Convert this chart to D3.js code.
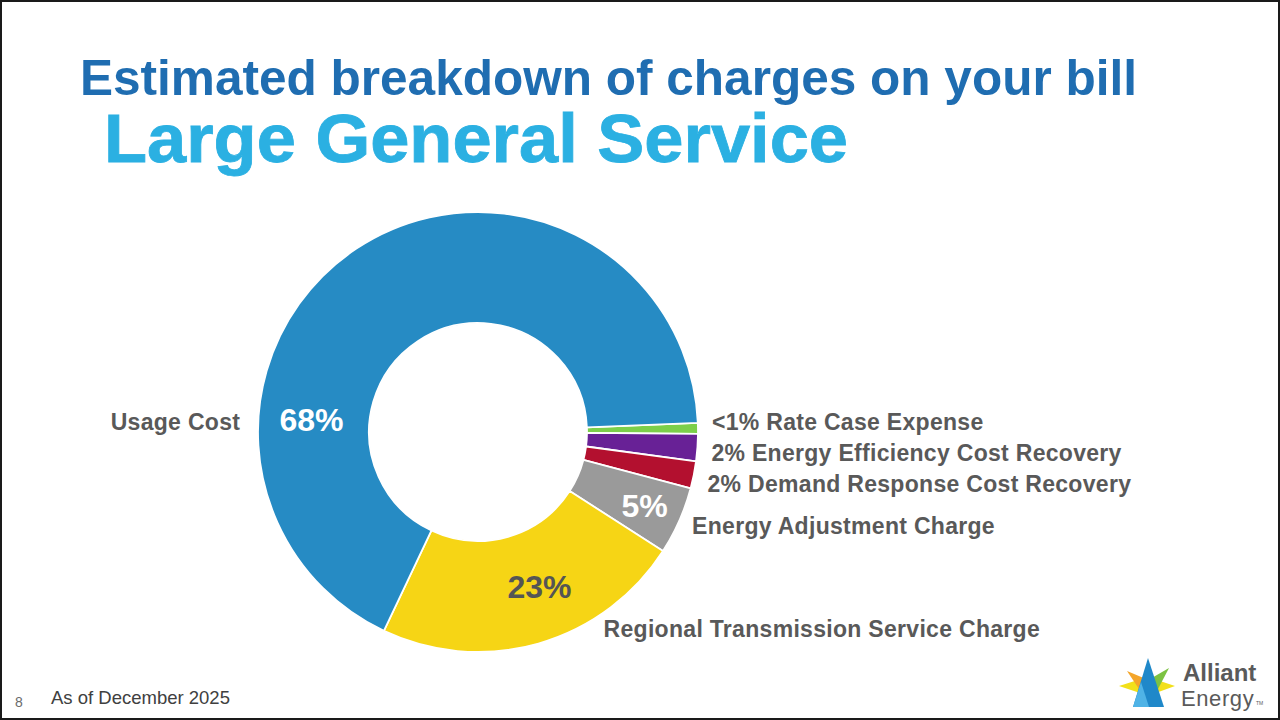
<!DOCTYPE html>
<html>
<head>
<meta charset="utf-8">
<script src="https://cdn.jsdelivr.net/npm/d3@7"></script>
<style>
  body { margin: 0; background: #fff; }
  svg { display: block; font-family: "Liberation Sans", Arial, sans-serif; }
</style>
</head>
<body>
<div id="chart"></div>
<script>
// Data (clockwise from 3 o'clock)
const sliceNames = ["Rate Case Expense", "Energy Efficiency Cost Recovery", "Demand Response Cost Recovery",
    "Energy Adjustment Charge", "Regional Transmission Service Charge", "Usage Cost"];
const sliceValues = [0.8, 2, 2, 5, 23, 67.5];
const pctLabels = ["<1%", "2%", "2%", "5%", "23%", "68%"];
const sliceColors = ["#7ccf4a", "#682196", "#b3102f", "#9a9a9a", "#f6d515", "#268bc4"];

const titleText = "Estimated breakdown of charges on your bill";
const subtitleText = "Large General Service";
const footnote = "As of December 2025";
const pageNumber = "8";

class DonutSlide {
    constructor(parentElement) {
        this.parentElement = parentElement;
        this.initVis();
    }

    initVis() {
        let vis = this;
        vis.width = 1280;
        vis.height = 720;

        vis.svg = d3.select("#" + vis.parentElement).append("svg")
            .attr("width", vis.width)
            .attr("height", vis.height);

        vis.svg.append("rect")
            .attr("width", vis.width).attr("height", vis.height)
            .attr("fill", "#fff");

        // titles
        vis.svg.append("text")
            .attr("x", 80).attr("y", 95)
            .attr("font-size", 50).attr("font-weight", "bold")
            .attr("fill", "#1f6db1")
            .attr("textLength", 1057).attr("lengthAdjust", "spacingAndGlyphs")
            .text(titleText);

        vis.svg.append("text")
            .attr("x", 104).attr("y", 162)
            .attr("font-size", 68).attr("font-weight", "bold")
            .attr("fill", "#2bb0e2")
            .attr("stroke", "#2bb0e2").attr("stroke-width", 0.8)
            .attr("textLength", 744).attr("lengthAdjust", "spacingAndGlyphs")
            .text(subtitleText);

        vis.cx = 478;
        vis.cy = 432;
        vis.outerR = 220;
        vis.innerR = 109;

        vis.g = vis.svg.append("g")
            .attr("transform", `translate(${vis.cx}, ${vis.cy})`);

        vis.drawDonut();
        vis.drawFooter();
    }

    drawDonut() {
        let vis = this;
        let a0 = 87.6 * Math.PI / 180;

        vis.pie = d3.pie().sort(null).value(d => d)
            .startAngle(a0).endAngle(a0 + 2 * Math.PI);
        vis.arcs = vis.pie(sliceValues);

        vis.arc = d3.arc().innerRadius(vis.innerR).outerRadius(vis.outerR);

        vis.g.selectAll(".slice")
            .data(vis.arcs)
            .enter()
            .append("path")
            .attr("class", "slice")
            .attr("d", vis.arc)
            .attr("fill", (d, i) => sliceColors[i])
            .attr("stroke", "#fff")
            .attr("stroke-width", 1.8)
            .attr("stroke-linejoin", "round");

        let polar = (a, r) => [r * Math.sin(a), -r * Math.cos(a)];
        let at = (d, f) => d.startAngle + f * (d.endAngle - d.startAngle);

        let label = (x, y, txt, anchor) => vis.g.append("text")
            .attr("x", x).attr("y", y).attr("dy", "0.35em")
            .attr("text-anchor", anchor || "start")
            .attr("font-size", 23).attr("font-weight", "bold")
            .attr("letter-spacing", 0.3)
            .attr("fill", "#595959")
            .text(txt);

        // small slices: "pct name" stacked to the right
        let prevY = null;
        vis.arcs.slice(0, 4).forEach(function (d, i) {
            let p = polar(at(d, 0.5), 234);
            let y = p[1];
            if (prevY === null) { y = y - 6; }
            else { y = Math.max(y, prevY + 31); }
            prevY = y;
            label(p[0], y, i < 3 ? pctLabels[i] + " " + sliceNames[i] : sliceNames[i]);
        });

        // regional transmission name
        let pY = polar(at(vis.arcs[4], 0.3), 234);
        label(pY[0], pY[1], sliceNames[4]);

        // usage cost name on the left
        let pU = polar(at(vis.arcs[5], 0.277), 238);
        label(pU[0], pU[1], sliceNames[5], "end");

        // percentages inside
        let inside = [
            {i: 3, f: 0.5, r: 182, fill: "#fff"},
            {i: 4, f: 0.43, r: 166, fill: "#555"},
            {i: 5, f: 0.285, r: 167, fill: "#fff"}
        ];
        inside.forEach(function (o) {
            let p = polar(at(vis.arcs[o.i], o.f), o.r);
            vis.g.append("text")
                .attr("x", p[0]).attr("y", p[1]).attr("dy", "0.36em")
                .attr("text-anchor", "middle")
                .attr("font-size", 32).attr("font-weight", "bold")
                .attr("fill", o.fill)
                .text(pctLabels[o.i]);
        });
    }

    drawFooter() {
        let vis = this;

        vis.svg.append("text")
            .attr("x", 15).attr("y", 707)
            .attr("font-size", 14).attr("fill", "#6b6b6b")
            .text(pageNumber);

        vis.svg.append("text")
            .attr("x", 51).attr("y", 704)
            .attr("font-size", 18.5).attr("fill", "#404040")
            .text(footnote);

        // Alliant Energy logo
        let logo = vis.svg.append("g");
        let shapes = [
            {pts: [[1119, 686], [1141, 679], [1143, 694]], fill: "#f2e01a"},
            {pts: [[1175, 686], [1154, 679], [1153, 694]], fill: "#f2e01a"},
            {pts: [[1127, 671], [1146, 679], [1139, 689]], fill: "#f4a52a"},
            {pts: [[1169, 668], [1150, 679], [1158, 689]], fill: "#7cc242"},
            {pts: [[1148, 658], [1133, 707], [1164, 707]], fill: "#1f88c9"},
            {pts: [[1133, 707], [1141, 682], [1149, 707]], fill: "#4fb3e6"}
        ];
        logo.selectAll("polygon")
            .data(shapes)
            .enter()
            .append("polygon")
            .attr("points", d => d.pts.map(p => p.join(",")).join(" "))
            .attr("fill", d => d.fill);

        vis.svg.append("text")
            .attr("x", 1183).attr("y", 681)
            .attr("font-size", 24).attr("font-weight", "bold")
            .attr("fill", "#5a5a5a")
            .text("Alliant");
        vis.svg.append("text")
            .attr("x", 1181).attr("y", 706)
            .attr("font-size", 22).attr("letter-spacing", 0.6)
            .attr("fill", "#5a5a5a")
            .text("Energy");
        vis.svg.append("text")
            .attr("x", 1256).attr("y", 705)
            .attr("font-size", 5).attr("fill", "#5a5a5a")
            .text("TM");

        // slide frame
        vis.svg.append("rect")
            .attr("x", 1).attr("y", 1)
            .attr("width", vis.width - 2).attr("height", vis.height - 2)
            .attr("fill", "none")
            .attr("stroke", "#1a1a1a")
            .attr("stroke-width", 2);
    }
}

new DonutSlide("chart");
</script>
</body>
</html>
